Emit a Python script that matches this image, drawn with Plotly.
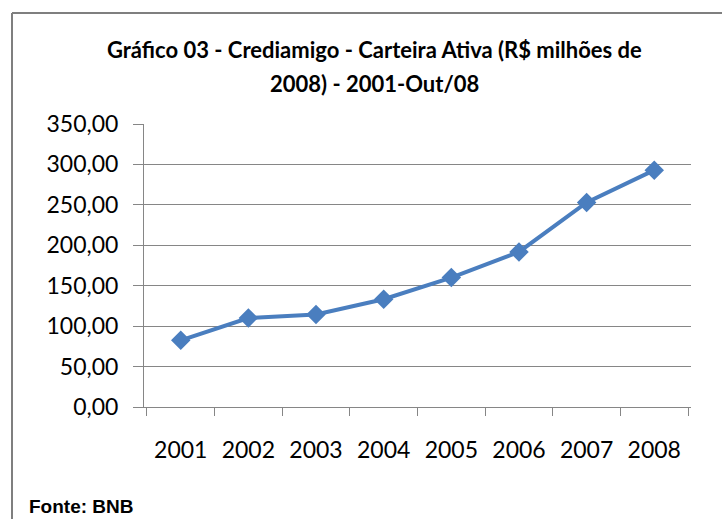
import plotly.graph_objects as go

years = ["2001", "2002", "2003", "2004", "2005", "2006", "2007", "2008"]
carteira = [82.5, 110.1, 114.4, 133.3, 160.1, 191.8, 253.0, 292.9]
y_ticks = [0, 50, 100, 150, 200, 250, 300, 350]

title_line1 = "Gráfico 03 - Crediamigo - Carteira Ativa (R$ milhões de"
title_line2 = "2008) - 2001-Out/08"
source_text = "Fonte: BNB"

W, H = 722, 519
L, R, T, B = 144, 31, 124, 112
pw, ph = W - L - R, H - T - B

def px_x(x):
    return (x - L) / pw

def px_y(y):
    return (H - B - y) / ph

grid = "#868686"
blue = "#4A7EBF"
font = "Lato"

fig = go.Figure()
fig.add_trace(go.Scatter(
    x=years, y=carteira, mode="lines+markers",
    line=dict(color=blue, width=4),
    marker=dict(symbol="diamond", size=15, color=blue),
    showlegend=False, hoverinfo="x+y",
))

fig.update_layout(
    width=W, height=H,
    margin=dict(l=L, r=R, t=T, b=B, autoexpand=False),
    paper_bgcolor="white", plot_bgcolor="white",
    separators=", ",
    font=dict(family=font, color="#000000"),
    xaxis=dict(
        type="category", showgrid=False, showline=True, linecolor=grid, linewidth=1,
        ticks="outside", ticklen=8, tickcolor=grid, tickson="boundaries",
        tickfont=dict(size=23, family=font, color="#000000"),
        ticklabelstandoff=22, fixedrange=True, automargin=False,
    ),
    yaxis=dict(
        range=[0, 350], tickvals=y_ticks, tickformat=".2f",
        showgrid=True, gridcolor=grid, gridwidth=1,
        showline=True, linecolor=grid, linewidth=1,
        ticks="outside", ticklen=10, tickcolor=grid,
        tickfont=dict(size=23, family=font, color="#000000"),
        ticklabelstandoff=10, zeroline=False, fixedrange=True, automargin=False,
    ),
)

# title lines
fig.add_annotation(text="<b>" + title_line1 + "</b>", xref="paper", yref="paper",
                   x=px_x(374), y=px_y(50), xanchor="center", yanchor="middle",
                   showarrow=False, font=dict(size=22, family=font, color="#000000"))
fig.add_annotation(text="<b>" + title_line2 + "</b>", xref="paper", yref="paper",
                   x=px_x(374), y=px_y(83), xanchor="center", yanchor="middle",
                   showarrow=False, font=dict(size=22, family=font, color="#000000"))
# source
fig.add_annotation(text="<b>" + source_text + "</b>", xref="paper", yref="paper",
                   x=px_x(27), y=px_y(519), xanchor="left", yanchor="bottom",
                   showarrow=False, font=dict(size=19, family="Liberation Sans", color="#000000"))

# frame (left and top borders)
fig.add_shape(type="line", xref="paper", yref="paper",
              x0=px_x(12), x1=px_x(12), y0=px_y(13), y1=px_y(540),
              line=dict(color="#7F7F7F", width=2))
fig.add_shape(type="line", xref="paper", yref="paper",
              x0=px_x(12), x1=px_x(740), y0=px_y(13), y1=px_y(13),
              line=dict(color="#7F7F7F", width=2))

fig.write_html("out.html", config={"displayModeBar": False},
               post_script="document.body.style.margin='0';document.body.style.overflow='hidden';")
